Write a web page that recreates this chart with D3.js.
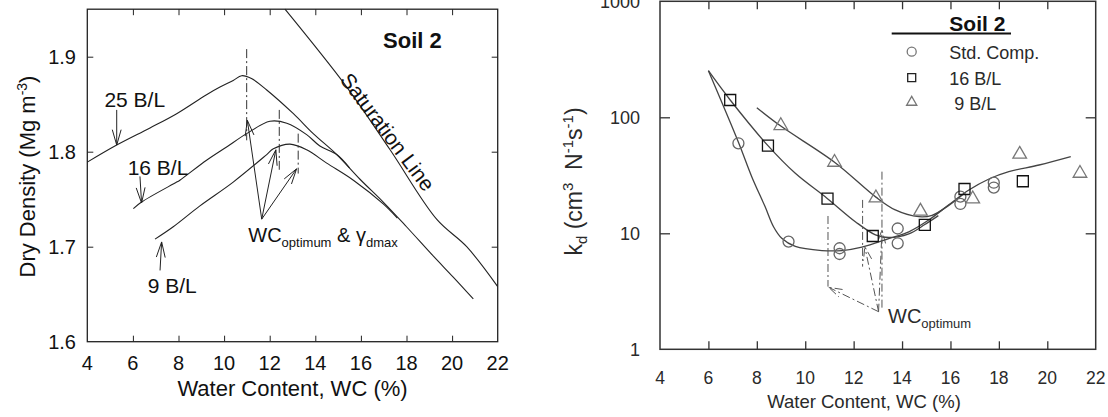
<!DOCTYPE html>
<html><head><meta charset="utf-8">
<script src="https://cdn.jsdelivr.net/npm/d3@7"></script>
<style>
body{margin:0;background:#fff}
svg{display:block}
text{font-family:"Liberation Sans",Arial,Helvetica,sans-serif}
</style>
</head><body>
<svg id="chart" width="1108" height="417"></svg>
<script>
// ---------------- data ----------------
const xTicks = [4, 6, 8, 10, 12, 14, 16, 18, 20, 22];
const densityTicks = [1.6, 1.7, 1.8, 1.9];
const kdTicks = [1, 10, 100, 1000];

// Left panel: compaction curves (water content %, dry density Mg/m3)
const curve25BL = [[4.0,1.789],[5.29,1.807],[6.75,1.825],[7.92,1.840],[9.23,1.860],[9.82,1.868],[10.40,1.875],[10.77,1.880],[11.2,1.877],[11.87,1.865],[13.04,1.840],[13.91,1.819],[14.94,1.797],[15.96,1.771],[16.98,1.747],[18.0,1.721],[19.18,1.690],[20.05,1.668],[20.93,1.645]];
const curve16BL = [[6.02,1.740],[6.38,1.747],[7.92,1.768],[8.06,1.770],[9.23,1.791],[10.11,1.805],[10.99,1.819],[12.01,1.832],[12.75,1.830],[13.62,1.818],[14.2,1.806],[14.94,1.797],[15.5,1.783]];
const curve9BL = [[6.97,1.708],[7.77,1.721],[8.94,1.743],[10.40,1.768],[11.87,1.797],[12.16,1.803],[12.89,1.808],[13.62,1.802],[14.5,1.788],[15.67,1.770],[16.98,1.745],[17.6,1.730]];
const saturationLine = [[12.67,1.950],[15.38,1.868],[17.28,1.802],[19.32,1.729],[20.64,1.700],[22.0,1.658]];

// Right panel: kd measurements (water content %, kd)
const stdCompWC = [7.24, 9.31, 11.42, 11.42, 13.82, 13.82, 16.41, 16.41, 17.79, 17.79];
const stdCompKd = [59.7, 8.48, 7.43, 6.63, 11.0, 8.2, 20.7, 17.9, 27.3, 24.8];
const bl16WC = [6.90, 8.46, 10.92, 12.79, 14.94, 16.58, 18.99];
const bl16Kd = [141, 57.0, 19.9, 9.48, 11.8, 24.1, 28.1];
const bl9WC = [8.99, 11.21, 12.92, 14.76, 16.92, 18.86, 21.35];
const bl9Kd = [84.8, 40.9, 20.2, 15.5, 19.8, 48.0, 32.9];

// Right panel: fitted curves
const fitStd = [[6.0,252],[7.24,61],[7.79,30.8],[8.34,17],[8.69,11.4],[9.03,9.06],[9.59,7.7],[10.69,7.1],[11.52,7.1],[12.34,7.6],[13.45,9.0],[14.28,10.3],[15.1,13.0],[15.93,17.6],[16.76,23.6],[17.59,29.4],[18.41,34],[19.66,38.8],[20.97,45.8]];
const fit16 = [[6.0,252],[6.9,141],[8.46,57],[9.59,32.9],[10.92,19.9],[12.07,12.6],[12.9,9.7],[13.45,9.2],[14.28,9.9],[14.94,11.9],[15.5,14.2]];
const fit9 = [[8.0,121],[8.99,84],[11.21,41],[12.92,20.5],[13.72,15.9],[14.69,13.9],[15.24,14.3],[15.93,17.4],[16.5,21.5]];

// annotations
const leftOptVerticals = [[10.99,1.908,1.812],[12.42,1.844,1.781],[13.25,1.819,1.777]];
const leftOptFrom = [11.65,1.729];
const leftOptTo = [[11.02,1.833],[12.27,1.802],[13.18,1.782]];
const leftLabels = [["25 B/L",4.75,1.847],["16 B/L",5.77,1.775],["9 B/L",6.65,1.651]];
const leftLabelArrows = [[[5.29,1.844],[5.29,1.807]],[[6.31,1.774],[6.38,1.746]],[[7.19,1.675],[7.26,1.705]]];
const rightOptVerticals = [[10.94,14.1,3.47],[12.37,19.4,5.16],[13.17,34,2.18]];
const rightOptFrom = [13.03,2.11];
const rightOptTo = [[10.97,3.42],[12.46,7.67],[13.17,10.7]];
const legendItems = ["Std. Comp.","16 B/L","\u00a09 B/L"];

// ---------------- drawing ----------------
const svg = d3.select("#chart");
svg.append("rect").attr("width",1108).attr("height",417).attr("fill","#fff");

function arrow(g, p1, p2, head, half, stroke, width, dash){
  const ang = Math.atan2(p2[1]-p1[1], p2[0]-p1[0]);
  const a1 = ang + Math.PI - half, a2 = ang + Math.PI + half;
  g.append("path")
   .attr("d", `M${p1[0]},${p1[1]}L${p2[0]},${p2[1]}`)
   .attr("fill","none").attr("stroke",stroke).attr("stroke-width",width)
   .attr("stroke-dasharray", dash || null);
  g.append("path")
   .attr("d", `M${p2[0]+head*Math.cos(a1)},${p2[1]+head*Math.sin(a1)}L${p2[0]},${p2[1]}L${p2[0]+head*Math.cos(a2)},${p2[1]+head*Math.sin(a2)}`)
   .attr("fill","none").attr("stroke",stroke).attr("stroke-width",width)
   .attr("stroke-dasharray", dash || null);
}

// ===== Left panel =====
const L = {l:87.3, r:497.7, t:9.2, b:341.7};
const xL = d3.scaleLinear().domain([4,22]).range([L.l,L.r]);
const yL = d3.scaleLinear().domain([1.6,1.95]).range([L.b,L.t]);
const gL = svg.append("g");
const lineL = d3.line().x(d=>xL(d[0])).y(d=>yL(d[1])).curve(d3.curveCatmullRom.alpha(0.5));

const gxb = gL.append("g").attr("transform",`translate(0,${L.b})`)
  .call(d3.axisBottom(xL).tickValues(xTicks.slice(1,-1)).tickSizeInner(-6).tickSizeOuter(0).tickFormat(""));
const gxt = gL.append("g").attr("transform",`translate(0,${L.t})`)
  .call(d3.axisTop(xL).tickValues(xTicks.slice(1,-1)).tickSizeInner(-6).tickSizeOuter(0).tickFormat(""));
const gyl = gL.append("g").attr("transform",`translate(${L.l},0)`)
  .call(d3.axisLeft(yL).tickValues(densityTicks.slice(1)).tickSizeInner(-6).tickSizeOuter(0).tickFormat(""));
const gyr = gL.append("g").attr("transform",`translate(${L.r},0)`)
  .call(d3.axisRight(yL).tickValues(densityTicks.slice(1)).tickSizeInner(-6).tickSizeOuter(0).tickFormat(""));
[gxb,gxt,gyl,gyr].forEach(g=>{g.select(".domain").remove(); g.selectAll("line").attr("stroke","#222").attr("stroke-width",1);});
gL.append("rect").attr("x",L.l).attr("y",L.t).attr("width",L.r-L.l).attr("height",L.b-L.t)
  .attr("fill","none").attr("stroke","#222").attr("stroke-width",1.3);

gL.selectAll(".xl").data(xTicks).enter().append("text")
  .attr("x",d=>xL(d)).attr("y",370).attr("text-anchor","middle")
  .attr("font-size",20).attr("fill","#111").text(d=>d);
gL.selectAll(".yl").data(densityTicks).enter().append("text")
  .attr("x",76).attr("y",d=>yL(d)+7.5).attr("text-anchor","end")
  .attr("font-size",20).attr("fill","#111").text(d=>d.toFixed(1));

gL.append("text").attr("x",(L.l+L.r)/2).attr("y",396).attr("text-anchor","middle")
  .attr("font-size",22).attr("fill","#111").text("Water Content, WC (%)");
const yt = gL.append("text").attr("transform","translate(35,176.5) rotate(-90)")
  .attr("text-anchor","middle").attr("font-size",22).attr("fill","#111");
yt.append("tspan").text("Dry Density (Mg m");
yt.append("tspan").attr("dy",-8).attr("font-size",14).text("-3");
yt.append("tspan").attr("dy",8).text(")");

[curve25BL, curve16BL, curve9BL, saturationLine].forEach(c=>{
  gL.append("path").attr("d",lineL(c)).attr("fill","none").attr("stroke","#222").attr("stroke-width",1.1);
});

leftOptVerticals.forEach(v=>{
  gL.append("line").attr("x1",xL(v[0])).attr("x2",xL(v[0])).attr("y1",yL(v[1])).attr("y2",yL(v[2]))
    .attr("stroke","#333").attr("stroke-width",1).attr("stroke-dasharray","9,3,2,3");
});
leftOptTo.forEach(t=>{
  arrow(gL,[xL(leftOptFrom[0]),yL(leftOptFrom[1])],[xL(t[0]),yL(t[1])],16,0.28,"#222",1);
});
leftLabelArrows.forEach(a=>{
  arrow(gL,[xL(a[0][0]),yL(a[0][1])],[xL(a[1][0]),yL(a[1][1])],16,0.28,"#222",1);
});
leftLabels.forEach(l=>{
  gL.append("text").attr("x",xL(l[1])).attr("y",yL(l[2])).attr("font-size",21).attr("fill","#111").text(l[0]);
});
const wcl = gL.append("text").attr("x",xL(11.06)).attr("y",yL(1.705)).attr("font-size",20).attr("fill","#111");
wcl.append("tspan").text("WC");
wcl.append("tspan").attr("dy",5).attr("font-size",13).text("optimum");
wcl.append("tspan").attr("dy",-5).text(" & \u03b3");
wcl.append("tspan").attr("dy",5).attr("font-size",13).text("dmax");
gL.append("text").attr("x",xL(16.97)).attr("y",yL(1.909)).attr("font-size",22).attr("font-weight","bold").attr("fill","#111").text("Soil 2");
gL.append("text").attr("transform",`translate(${xL(16.65)+6},${yL(1.813)-3}) rotate(53)`)
  .attr("text-anchor","middle").attr("font-size",21).attr("fill","#111").text("Saturation Line");

// ===== Right panel =====
const R = {l:660, r:1095.7, t:1.3, b:349.3};
const xR = d3.scaleLinear().domain([4,22]).range([R.l,R.r]);
const yR = d3.scaleLog().domain([1,1000]).range([R.b,R.t]);
const gR = svg.append("g");
const lineR = d3.line().x(d=>xR(d[0])).y(d=>yR(d[1])).curve(d3.curveCatmullRom.alpha(0.5));

const rxb = gR.append("g").attr("transform",`translate(0,${R.b})`)
  .call(d3.axisBottom(xR).tickValues(xTicks.slice(1,-1)).tickSizeInner(-8).tickSizeOuter(0).tickFormat(""));
const rxt = gR.append("g").attr("transform",`translate(0,${R.t})`)
  .call(d3.axisTop(xR).tickValues(xTicks.slice(1,-1)).tickSizeInner(-8).tickSizeOuter(0).tickFormat(""));
const ryl = gR.append("g").attr("transform",`translate(${R.l},0)`)
  .call(d3.axisLeft(yR).tickValues(kdTicks.slice(1,-1)).tickSizeInner(-10).tickSizeOuter(0).tickFormat(""));
const ryr = gR.append("g").attr("transform",`translate(${R.r},0)`)
  .call(d3.axisRight(yR).tickValues(kdTicks.slice(1,-1)).tickSizeInner(-10).tickSizeOuter(0).tickFormat(""));
[rxb,rxt,ryl,ryr].forEach(g=>{g.select(".domain").remove(); g.selectAll("line").attr("stroke","#333").attr("stroke-width",1.3);});
gR.append("rect").attr("x",R.l).attr("y",R.t).attr("width",R.r-R.l).attr("height",R.b-R.t)
  .attr("fill","none").attr("stroke","#333").attr("stroke-width",1.5);

gR.selectAll(".xl").data(xTicks).enter().append("text")
  .attr("x",d=>xR(d)).attr("y",383.5).attr("text-anchor","middle")
  .attr("font-size",17.5).attr("fill","#2a2a2a").text(d=>d);
gR.selectAll(".yl").data(kdTicks).enter().append("text")
  .attr("x",640).attr("y",d=>yR(d)+6.5).attr("text-anchor","end")
  .attr("font-size",18).attr("fill","#2a2a2a").text(d=>d);

gR.append("text").attr("x",864).attr("y",408).attr("text-anchor","middle")
  .attr("font-size",18.5).attr("fill","#2a2a2a").text("Water Content, WC (%)");
const ry = gR.append("text").attr("transform","translate(582,181.5) rotate(-90)")
  .attr("text-anchor","middle").attr("font-size",23).attr("fill","#2a2a2a");
ry.append("tspan").text("k");
ry.append("tspan").attr("dy",5).attr("font-size",15).text("d");
ry.append("tspan").attr("dy",-5).text(" (cm");
ry.append("tspan").attr("dy",-9).attr("font-size",15).text("3");
ry.append("tspan").attr("dy",9).text("\u00a0\u00a0N");
ry.append("tspan").attr("dy",-9).attr("font-size",15).text("-1");
ry.append("tspan").attr("dy",9).text("s");
ry.append("tspan").attr("dy",-9).attr("font-size",15).text("-1");
ry.append("tspan").attr("dy",9).text(")");

[fitStd, fit16, fit9].forEach(c=>{
  gR.append("path").attr("d",lineR(c)).attr("fill","none").attr("stroke","#444").attr("stroke-width",1.3);
});

rightOptVerticals.forEach(v=>{
  gR.append("line").attr("x1",xR(v[0])).attr("x2",xR(v[0])).attr("y1",yR(v[1])).attr("y2",yR(v[2]))
    .attr("stroke","#555").attr("stroke-width",1).attr("stroke-dasharray","8,3,2,3");
});
rightOptTo.forEach(t=>{
  arrow(gR,[xR(rightOptFrom[0]),yR(rightOptFrom[1])],[xR(t[0]),yR(t[1])],14,0.3,"#555",1,"8,3,2,3");
});
const wcr = gR.append("text").attr("x",888).attr("y",323).attr("font-size",20).attr("fill","#2a2a2a");
wcr.append("tspan").text("WC");
wcr.append("tspan").attr("dy",5).attr("font-size",13).text("optimum");

const symCircle = d3.symbol().type(d3.symbolCircle).size(95);
const symSquare = d3.symbol().type(d3.symbolSquare).size(121);
const symTri = d3.symbol().type(d3.symbolTriangle).size(80);
function markers(xs, ys, sym, color, w){
  gR.selectAll(null).data(xs.map((x,i)=>[x,ys[i]])).enter().append("path")
    .attr("transform",d=>`translate(${xR(d[0])},${yR(d[1])})`)
    .attr("d",sym).attr("fill","none").attr("stroke",color).attr("stroke-width",w);
}
markers(stdCompWC, stdCompKd, symCircle, "#666", 1.3);
markers(bl16WC, bl16Kd, symSquare, "#111", 1.3);
markers(bl9WC, bl9Kd, symTri, "#777", 1.3);

gR.append("line").attr("x1",891.7).attr("x2",1011).attr("y1",33.5).attr("y2",33.5).attr("stroke","#111").attr("stroke-width",2);
gR.append("text").attr("x",949.3).attr("y",30.7).attr("font-size",21).attr("font-weight","bold").attr("fill","#111").text("Soil 2");
const legSyms = [d3.symbol().type(d3.symbolCircle).size(64), d3.symbol().type(d3.symbolSquare).size(64), d3.symbol().type(d3.symbolTriangle).size(45)];
const legColors = ["#777","#222","#777"];
const legY = [51.7, 77.7, 102.3];
legendItems.forEach((t,i)=>{
  gR.append("path").attr("transform",`translate(911.7,${legY[i]})`).attr("d",legSyms[i]())
    .attr("fill","none").attr("stroke",legColors[i]).attr("stroke-width",1.3);
  gR.append("text").attr("x",949.3).attr("y",legY[i]+7.5).attr("font-size",18).attr("fill","#2a2a2a").text(t);
});
</script>
</body></html>
